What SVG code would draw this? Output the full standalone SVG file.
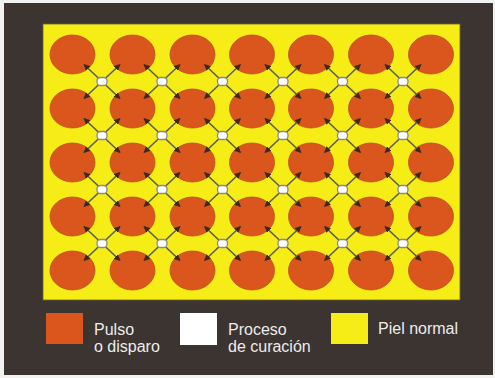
<svg xmlns="http://www.w3.org/2000/svg" width="495" height="378" viewBox="0 0 495 378">
<defs>
<style>
.cell{fill:#da561c;stroke:#b8501e;stroke-width:0.8}
.heal{fill:#ffffff;stroke:#8a8a8a;stroke-width:1.3}
.con{stroke:#5a5a5a;stroke-width:1.6;fill:none;marker-end:url(#ah)}
.lbl{font-family:"Liberation Sans",Arial,sans-serif;font-size:16px;fill:#ececec}
</style>
<marker id="ah" viewBox="0 0 10 10" refX="9" refY="5" markerWidth="4" markerHeight="4" orient="auto" markerUnits="strokeWidth">
<path d="M0,0 L10,5 L0,10 z" fill="#3a2a22"/>
</marker>
<ellipse id="c" rx="22.5" ry="19.5" class="cell"/>
<rect id="h" x="-5" y="-4" width="10" height="8" rx="3.5" class="heal"/>
<g id="x">
<line x1="0" y1="0" x2="-18" y2="-17" class="con"/>
<line x1="0" y1="0" x2="18" y2="-17" class="con"/>
<line x1="0" y1="0" x2="-18" y2="17" class="con"/>
<line x1="0" y1="0" x2="18" y2="17" class="con"/>
</g>
</defs>
<rect width="495" height="378" fill="#f2f2f2"/>
<rect x="4" y="3" width="489" height="372" fill="#3b3430"/>
<rect x="43" y="24" width="417" height="276" fill="#f6ec16" stroke="#6b6330" stroke-width="0.8"/>
<g id="cells">
<g id="r1"><use href="#c" x="72.5" y="54.5"/><use href="#c" x="132.5" y="54.5"/><use href="#c" x="192.5" y="54.5"/><use href="#c" x="252" y="54.5"/><use href="#c" x="311" y="54.5"/><use href="#c" x="371" y="54.5"/><use href="#c" x="431" y="54.5"/></g>
<g id="r2"><use href="#c" x="72.5" y="108.5"/><use href="#c" x="132.5" y="108.5"/><use href="#c" x="192.5" y="108.5"/><use href="#c" x="252" y="108.5"/><use href="#c" x="311" y="108.5"/><use href="#c" x="371" y="108.5"/><use href="#c" x="431" y="108.5"/></g>
<g id="r3"><use href="#c" x="72.5" y="162.5"/><use href="#c" x="132.5" y="162.5"/><use href="#c" x="192.5" y="162.5"/><use href="#c" x="252" y="162.5"/><use href="#c" x="311" y="162.5"/><use href="#c" x="371" y="162.5"/><use href="#c" x="431" y="162.5"/></g>
<g id="r4"><use href="#c" x="72.5" y="216.5"/><use href="#c" x="132.5" y="216.5"/><use href="#c" x="192.5" y="216.5"/><use href="#c" x="252" y="216.5"/><use href="#c" x="311" y="216.5"/><use href="#c" x="371" y="216.5"/><use href="#c" x="431" y="216.5"/></g>
<g id="r5"><use href="#c" x="72.5" y="270.5"/><use href="#c" x="132.5" y="270.5"/><use href="#c" x="192.5" y="270.5"/><use href="#c" x="252" y="270.5"/><use href="#c" x="311" y="270.5"/><use href="#c" x="371" y="270.5"/><use href="#c" x="431" y="270.5"/></g>
</g>
<g id="connectors">
<use href="#x" x="102" y="81.5"/><use href="#x" x="162" y="81.5"/><use href="#x" x="222.5" y="81.5"/><use href="#x" x="283" y="81.5"/><use href="#x" x="342.5" y="81.5"/><use href="#x" x="403" y="81.5"/>
<use href="#x" x="102" y="135.5"/><use href="#x" x="162" y="135.5"/><use href="#x" x="222.5" y="135.5"/><use href="#x" x="283" y="135.5"/><use href="#x" x="342.5" y="135.5"/><use href="#x" x="403" y="135.5"/>
<use href="#x" x="102" y="189.5"/><use href="#x" x="162" y="189.5"/><use href="#x" x="222.5" y="189.5"/><use href="#x" x="283" y="189.5"/><use href="#x" x="342.5" y="189.5"/><use href="#x" x="403" y="189.5"/>
<use href="#x" x="102" y="243.5"/><use href="#x" x="162" y="243.5"/><use href="#x" x="222.5" y="243.5"/><use href="#x" x="283" y="243.5"/><use href="#x" x="342.5" y="243.5"/><use href="#x" x="403" y="243.5"/>
</g>
<g id="healing">
<use href="#h" x="102" y="81.5"/><use href="#h" x="162" y="81.5"/><use href="#h" x="222.5" y="81.5"/><use href="#h" x="283" y="81.5"/><use href="#h" x="342.5" y="81.5"/><use href="#h" x="403" y="81.5"/>
<use href="#h" x="102" y="135.5"/><use href="#h" x="162" y="135.5"/><use href="#h" x="222.5" y="135.5"/><use href="#h" x="283" y="135.5"/><use href="#h" x="342.5" y="135.5"/><use href="#h" x="403" y="135.5"/>
<use href="#h" x="102" y="189.5"/><use href="#h" x="162" y="189.5"/><use href="#h" x="222.5" y="189.5"/><use href="#h" x="283" y="189.5"/><use href="#h" x="342.5" y="189.5"/><use href="#h" x="403" y="189.5"/>
<use href="#h" x="102" y="243.5"/><use href="#h" x="162" y="243.5"/><use href="#h" x="222.5" y="243.5"/><use href="#h" x="283" y="243.5"/><use href="#h" x="342.5" y="243.5"/><use href="#h" x="403" y="243.5"/>
</g>
<g id="legend-pulso">
<rect x="46" y="313" width="37" height="31" fill="#da561c"/>
<text class="lbl" x="94" y="335">Pulso</text>
<text class="lbl" x="94" y="352">o disparo</text>
</g>
<g id="legend-proceso">
<rect x="180" y="313" width="37" height="32" fill="#ffffff"/>
<text class="lbl" x="228" y="335">Proceso</text>
<text class="lbl" x="228" y="352">de curación</text>
</g>
<g id="legend-piel">
<rect x="331" y="313" width="37" height="31" fill="#f6ec16"/>
<text class="lbl" x="378" y="334">Piel normal</text>
</g>
</svg>
